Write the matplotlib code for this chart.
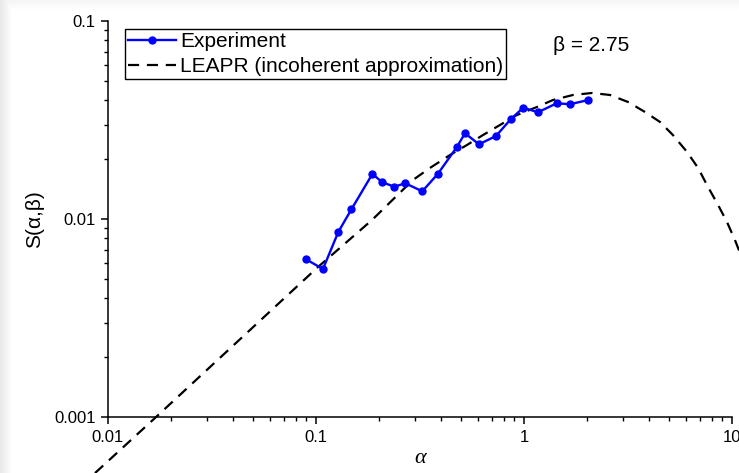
import numpy as np
import matplotlib
matplotlib.use("Agg")
import matplotlib.pyplot as plt
from matplotlib.ticker import LogLocator, NullFormatter, FixedLocator, FixedFormatter

plt.rcParams['font.family'] = ['Liberation Sans', 'DejaVu Sans']

# measured S(alpha, beta) at beta = 2.75
alpha_exp = [0.0895, 0.108, 0.128, 0.148, 0.1866, 0.2084, 0.2378, 0.2687, 0.3243, 0.386,
             0.4747, 0.5204, 0.6076, 0.7334, 0.863, 0.992, 1.167, 1.436, 1.664, 2.038]
s_exp = [0.00626, 0.00559, 0.00860, 0.01119, 0.01688, 0.01533, 0.01456, 0.01515, 0.01380, 0.01694,
         0.02303, 0.02709, 0.02384, 0.02625, 0.0319, 0.0365, 0.0346, 0.0384, 0.0380, 0.0399]

# LEAPR curve, incoherent approximation
alpha_leapr = [0.00866, 0.01683, 0.1022, 0.1858, 0.2924, 0.353, 0.4406, 0.532, 0.6353, 0.767,
               0.9245, 1.155, 1.378, 1.72, 2.123, 2.59, 3.162, 3.818, 4.508, 5.20, 6.08, 6.87,
               7.67, 8.57, 9.46, 10.33, 11.17]
s_leapr = [0.000521, 0.000989, 0.00572, 0.00988, 0.01574, 0.01810, 0.02104, 0.02365, 0.02655,
           0.02985, 0.03351, 0.0368, 0.0399, 0.0423, 0.0433, 0.0423, 0.0390, 0.0347, 0.0309,
           0.02655, 0.02181, 0.01810, 0.01451, 0.01177, 0.00966, 0.00783, 0.00636]

W, H = 739, 473
fig = plt.figure(figsize=(W / 100, H / 100), dpi=100)

# soft grey edge on the left and top of the page
bg = fig.add_axes([0, 0, 1, 1], zorder=-10)
xx = np.arange(W)
yy = np.arange(H)
shade = np.maximum(np.clip(1 - xx[None, :] / 12.0, 0, 1) * 0.09,
                   np.clip(1 - yy[:, None] / 10.0, 0, 1) * 0.04)
bg.imshow(1 - shade, cmap='gray', vmin=0, vmax=1, aspect='auto', extent=[0, 1, 0, 1])
bg.axis('off')

ax = fig.add_axes([108 / W, 1 - 417 / H, (732 - 108) / W, (417 - 21) / H])
ax.patch.set_alpha(0)
ax.set_xscale('log')
ax.set_yscale('log')
ax.set_xlim(0.01, 10)
ax.set_ylim(0.001, 0.1)

ax.plot(alpha_exp, s_exp, color='#0000ff', lw=1.7, marker='o', ms=5,
        label='Experiment', zorder=3)
ax.plot(alpha_leapr, s_leapr, color='black', lw=1.6, linestyle=(0, (5, 3.5)),
        clip_on=False, label='LEAPR (incoherent approximation)', zorder=2)

for side in ('top', 'right'):
    ax.spines[side].set_visible(False)
for side in ('left', 'bottom'):
    ax.spines[side].set_linewidth(1.1)

ax.xaxis.set_major_locator(FixedLocator([0.01, 0.1, 1, 10]))
ax.xaxis.set_major_formatter(FixedFormatter(['0.01', '0.1', '1', '10']))
ax.yaxis.set_major_locator(FixedLocator([0.001, 0.01, 0.1]))
ax.yaxis.set_major_formatter(FixedFormatter(['0.001', '0.01', '0.1']))
ax.xaxis.set_minor_locator(LogLocator(base=10, subs=np.arange(2, 10)))
ax.yaxis.set_minor_locator(LogLocator(base=10, subs=np.arange(2, 10)))
ax.xaxis.set_minor_formatter(NullFormatter())
ax.yaxis.set_minor_formatter(NullFormatter())
ax.tick_params(which='major', direction='out', length=5, width=1.1, labelsize=12, pad=4)
ax.tick_params(which='minor', direction='out', length=3, width=1.0)

ax.set_ylabel('S(α,β)', fontsize=15, labelpad=7)
ax.set_xlabel('α', fontsize=16, fontfamily='Liberation Serif', style='italic', labelpad=3)

ax.text(0.713, 0.937, 'β = 2.75', transform=ax.transAxes, fontsize=15, va='center', ha='left')

leg = ax.legend(loc='upper left', bbox_to_anchor=(125 / W, 1 - 29 / H),
                bbox_transform=fig.transFigure, borderaxespad=0, fontsize=15,
                frameon=True, fancybox=False, shadow=False, framealpha=1,
                handlelength=2.3, handletextpad=0.2, borderpad=0.15, labelspacing=0.3)
leg.get_frame().set_edgecolor('black')
leg.get_frame().set_linewidth(1.0)

fig.savefig('out.png', dpi=100)
